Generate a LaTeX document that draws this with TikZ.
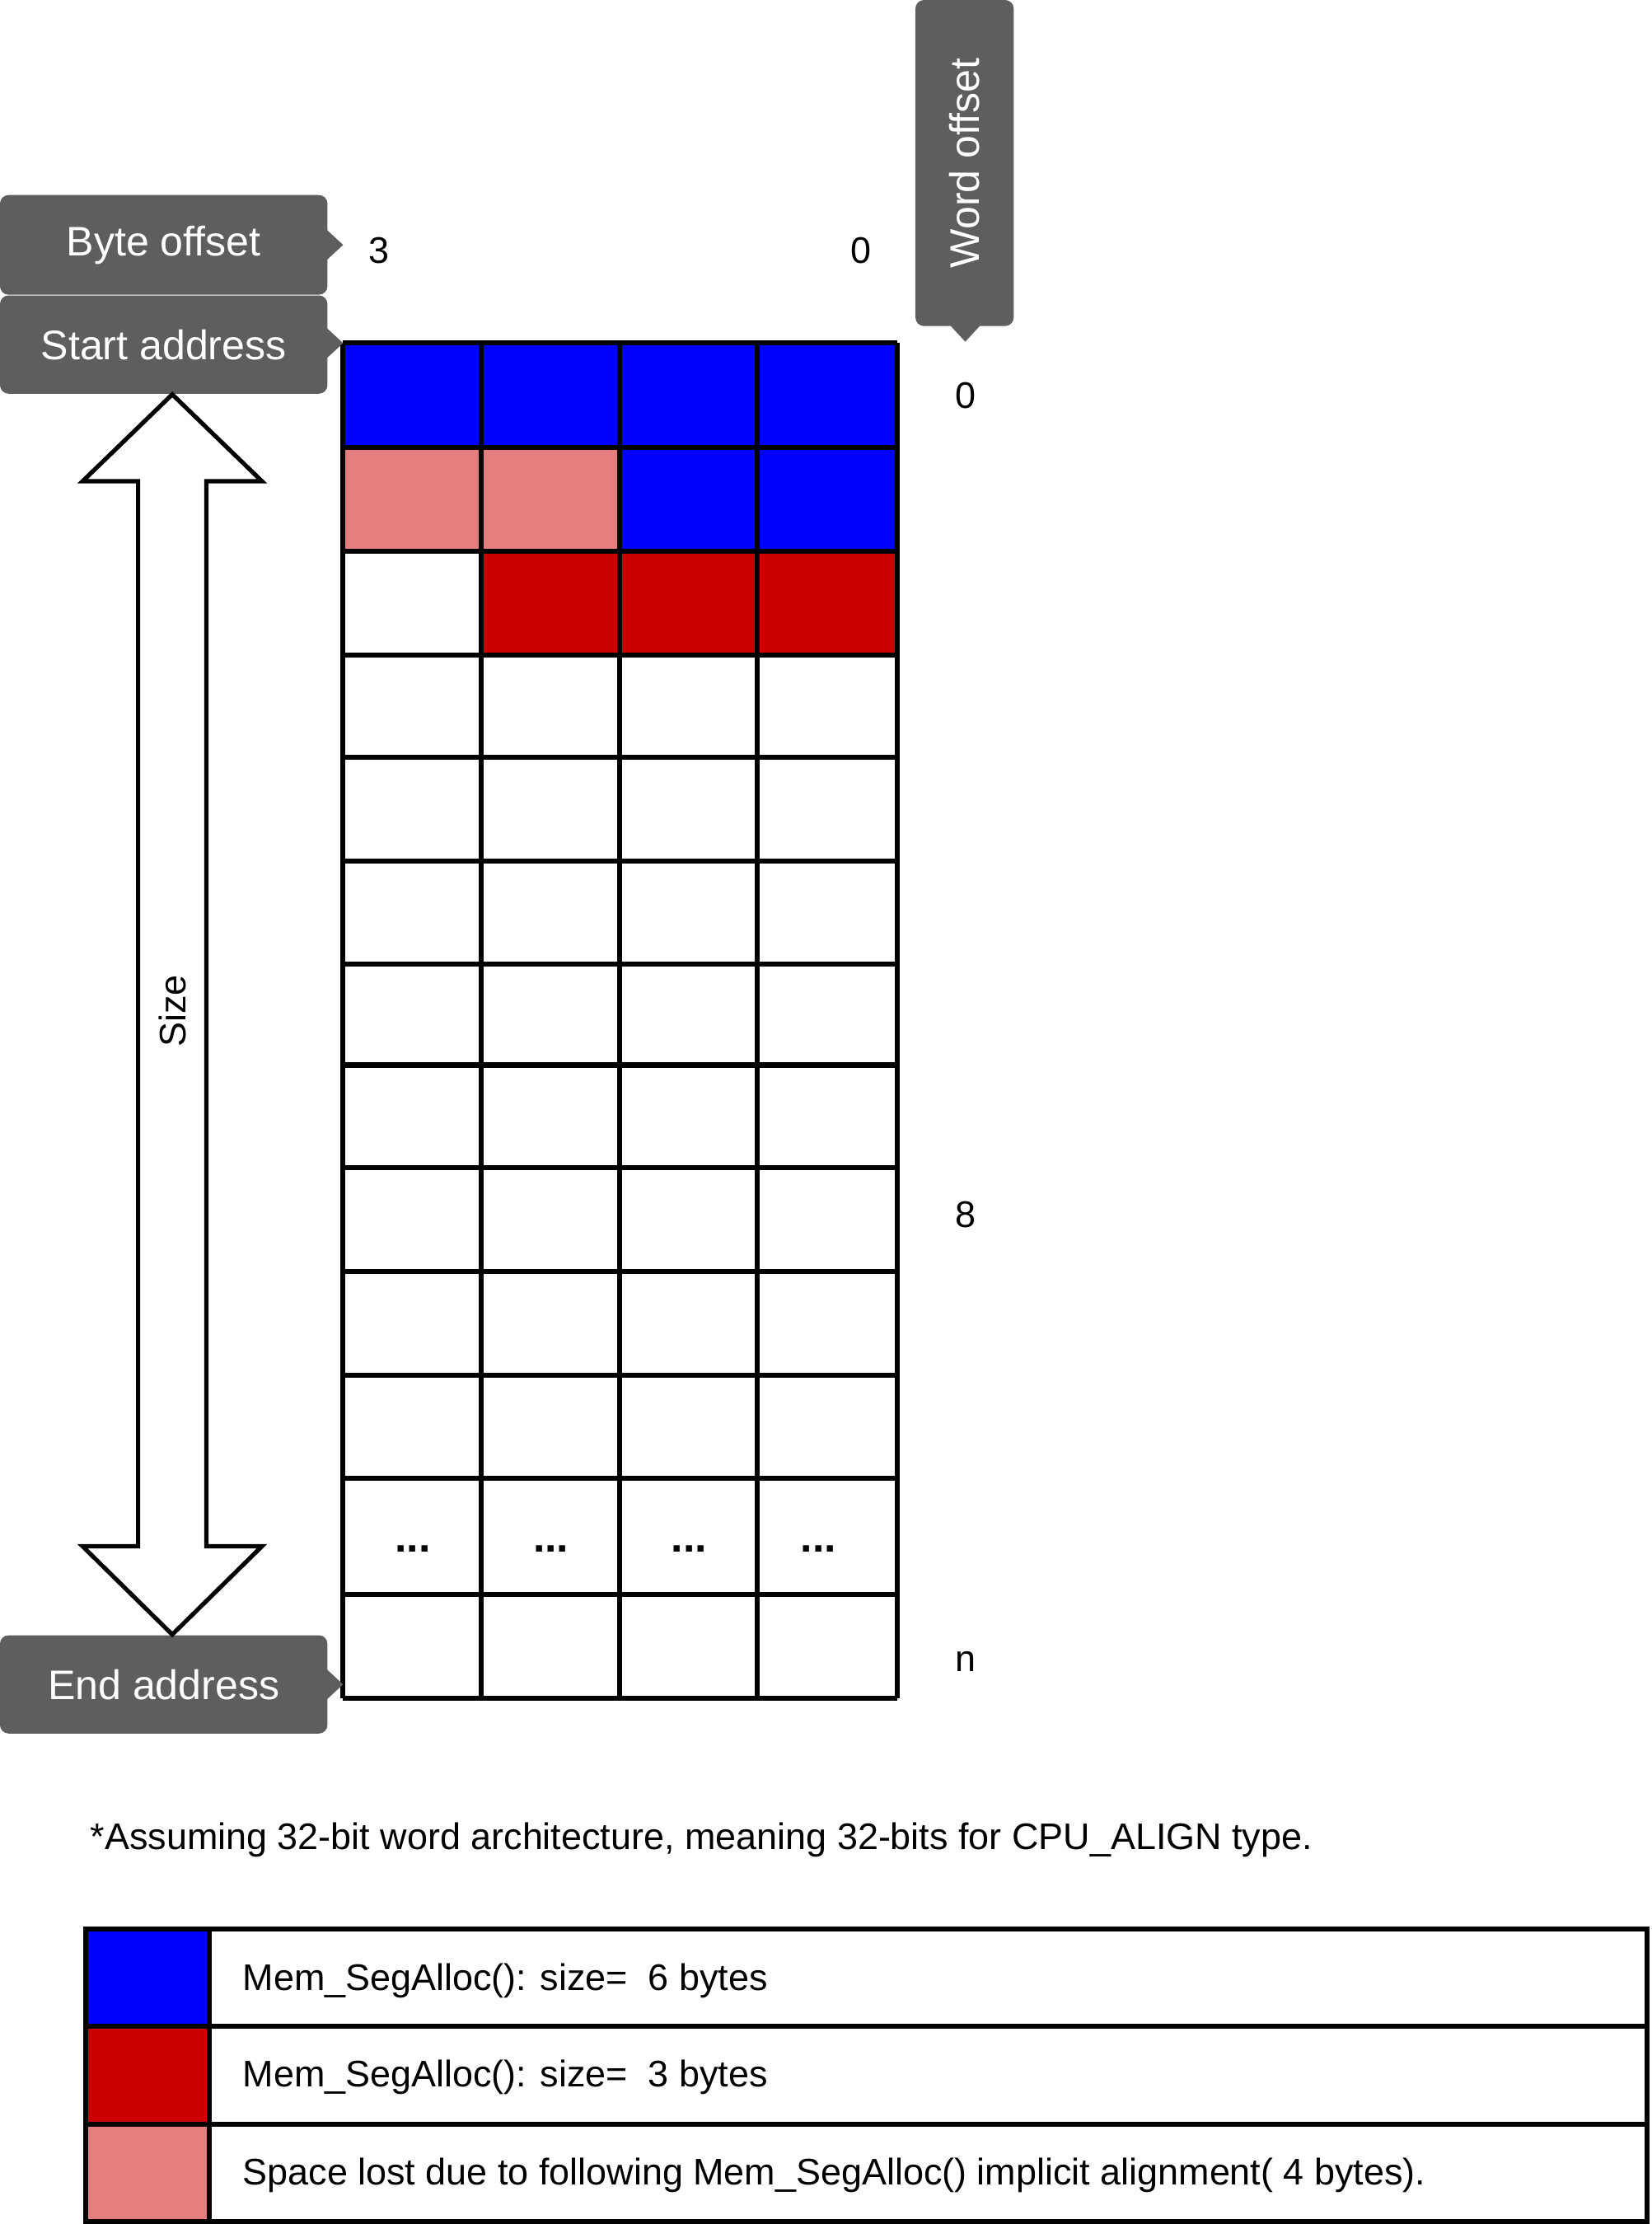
\documentclass[tikz,border=0pt]{standalone}
\usepackage{fontspec}
\setmainfont{Liberation Sans}
\begin{document}
\begin{tikzpicture}[x=1pt,y=-1pt,
  callout/.style={fill=black!63,rounded corners=6pt,text=white,font=\fontsize{29}{32}\selectfont,inner sep=0pt},
  lbl/.style={font=\fontsize{26}{30}\selectfont},
  gridline/.style={line width=3.5pt}]
\useasboundingbox (0,0) rectangle (1160,1562);
% fills
\fill[blue] (241,241) rectangle (630,314);
\fill[blue] (435,314) rectangle (630,387);
\fill[red!80!black] (338,387) rectangle (630,460);
\fill[red!45!white!90!black] (241,314) rectangle (435,387);
% grid
\foreach \y in {241,314,387,460,532,605,677,748,820,893,966,1038,1120,1193}
  \draw[gridline] (241,\y) -- (630,\y);
\foreach \x in {241,338,435,532,630}
  \draw[gridline] (\x,241) -- (\x,1193);
\foreach \x in {290,387,484,575}
  \node[font=\fontsize{30}{30}\selectfont\bfseries] at (\x,1088) {...};
% callouts
\fill[black!63] (228,160) -- (241,172) -- (228,184) -- cycle;
\node[callout,minimum width=230pt,minimum height=70pt] (bo) at (115,172) {Byte offset};
\fill[black!63] (228,229) -- (241,241) -- (228,253) -- cycle;
\node[callout,minimum width=230pt,minimum height=69pt] (sa) at (115,242) {Start address};
\fill[black!63] (228,1171) -- (241,1183) -- (228,1195) -- cycle;
\node[callout,minimum width=230pt,minimum height=69pt] (ea) at (115,1183) {End address};
\fill[black!63] (666,227) -- (678,240) -- (690,227) -- cycle;
\node[callout,minimum width=229pt,minimum height=69pt,rotate=90] (wo) at (677.5,114.5) {Word offset};
% labels
\node[lbl] (b3) at (266,176) {3};
\node[lbl] (b0) at (605,176) {0};
\node[lbl] (w0) at (678,278) {0};
\node[lbl] (w8) at (678,853) {8};
\node[lbl] (wn) at (678,1167) {n};
% double arrow
\draw[line width=3pt,fill=white,line join=miter] (121,277) -- (184,338) -- (145,338) -- (145,1086) -- (184,1086) -- (121,1148) -- (58,1086) -- (97,1086) -- (97,338) -- (58,338) -- cycle;
\node[lbl,rotate=90] (size) at (121,710) {Size};
% footnote
\node[lbl,anchor=west] (fn) at (60,1292) {*Assuming 32-bit word architecture, meaning 32-bits for CPU\_ALIGN type.};
% legend
\fill[blue] (60,1355) rectangle (147,1423);
\fill[red!80!black] (60,1423) rectangle (147,1492);
\fill[red!45!white!90!black] (60,1492) rectangle (147,1560);
\draw[gridline] (60,1355) rectangle (1157,1560);
\draw[gridline] (60,1423) -- (1157,1423);
\draw[gridline] (60,1492) -- (1157,1492);
\draw[gridline] (147,1355) -- (147,1560);
\node[lbl,anchor=west] (l1) at (167,1391) {Mem\_SegAlloc(): size=\ \ 6 bytes};
\node[lbl,anchor=west] (l2) at (167,1459) {Mem\_SegAlloc(): size=\ \ 3 bytes};
\node[lbl,anchor=west] (l3) at (167,1528) {Space lost due to following Mem\_SegAlloc() implicit alignment( 4 bytes).};
\end{tikzpicture}
\end{document}
